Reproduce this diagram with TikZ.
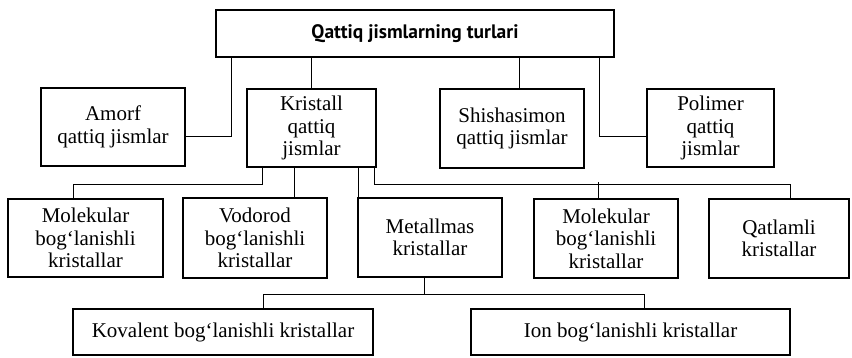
\documentclass[tikz,border=0pt]{standalone}
\usepackage{fontspec}
\setmainfont{Liberation Serif}
\newfontfamily\titlefont{PT Sans}
\begin{document}
\begin{tikzpicture}[x=1pt,y=-1pt,
  box/.style={draw,line width=1.2pt,inner sep=0pt,align=center,
    font=\fontsize{21}{22.5}\selectfont},
  conn/.style={line width=1pt}]
\useasboundingbox (0,0) rectangle (852,357);
\node[box,minimum width=398,minimum height=47,font=\titlefont\bfseries\fontsize{19.5}{22}\selectfont] (top) at (415,33.5) {Qattiq jismlarning turlari};
\node[box,minimum width=144,minimum height=78] (amorf) at (113,127) {Amorf\\qattiq jismlar};
\node[box,minimum width=129,minimum height=78] (kris) at (311.5,128) {Kristall\\qattiq\\jismlar};
\node[box,minimum width=144,minimum height=79] (shish) at (512,128.5) {Shishasimon\\qattiq jismlar};
\node[box,minimum width=127,minimum height=78] (poli) at (710.5,128) {Polimer\\qattiq\\jismlar};
\node[box,minimum width=155,minimum height=78] (mol1) at (85.5,238) {Molekular\\bog‘lanishli\\kristallar};
\node[box,minimum width=144,minimum height=80] (vod) at (255,238) {Vodorod\\bog‘lanishli\\kristallar};
\node[box,minimum width=144,minimum height=79] (met) at (430,237.5) {Metallmas\\kristallar};
\node[box,minimum width=144,minimum height=79] (mol2) at (606,238.5) {Molekular\\bog‘lanishli\\kristallar};
\node[box,minimum width=140,minimum height=79] (qat) at (779,238.5) {Qatlamli\\kristallar};
\node[box,minimum width=300,minimum height=46] (kov) at (223,332) {Kovalent bog‘lanishli kristallar};
\node[box,minimum width=319,minimum height=46] (ion) at (630.5,332) {Ion bog‘lanishli kristallar};
% top level connectors
\draw[conn] ([xshift=16]top.south west) |- ([yshift=-9]amorf.east);
\draw[conn] (kris.north |- top.south) -- (kris.north);
\draw[conn] ([xshift=7]shish.north |- top.south) -- ([xshift=7]shish.north);
\draw[conn] ([xshift=-15]top.south east) |- ([yshift=-8]poli.west);
% kristall connectors
\draw[conn] ([xshift=16]kris.south west) -- ++(0,17) -| ([xshift=-12]mol1.north);
\draw[conn] ([xshift=39]vod.north |- kris.south) -- ([xshift=39]vod.north);
\draw[conn] ([xshift=1]met.north west |- kris.south) -- ([xshift=1]met.north west);
\draw[conn] ([xshift=-2]kris.south east) -- ++(0,17) -| ([xshift=11]qat.north);
\draw[conn] ([xshift=-8]mol2.north) -- ++(0,-16);
% metallmas connectors
\draw[conn] ([xshift=-6]met.south) -- ++(0,17) coordinate (b2);
\draw[conn] ([xshift=40]kov.north) |- (b2) -| ([xshift=14]ion.north);
\end{tikzpicture}
\end{document}
